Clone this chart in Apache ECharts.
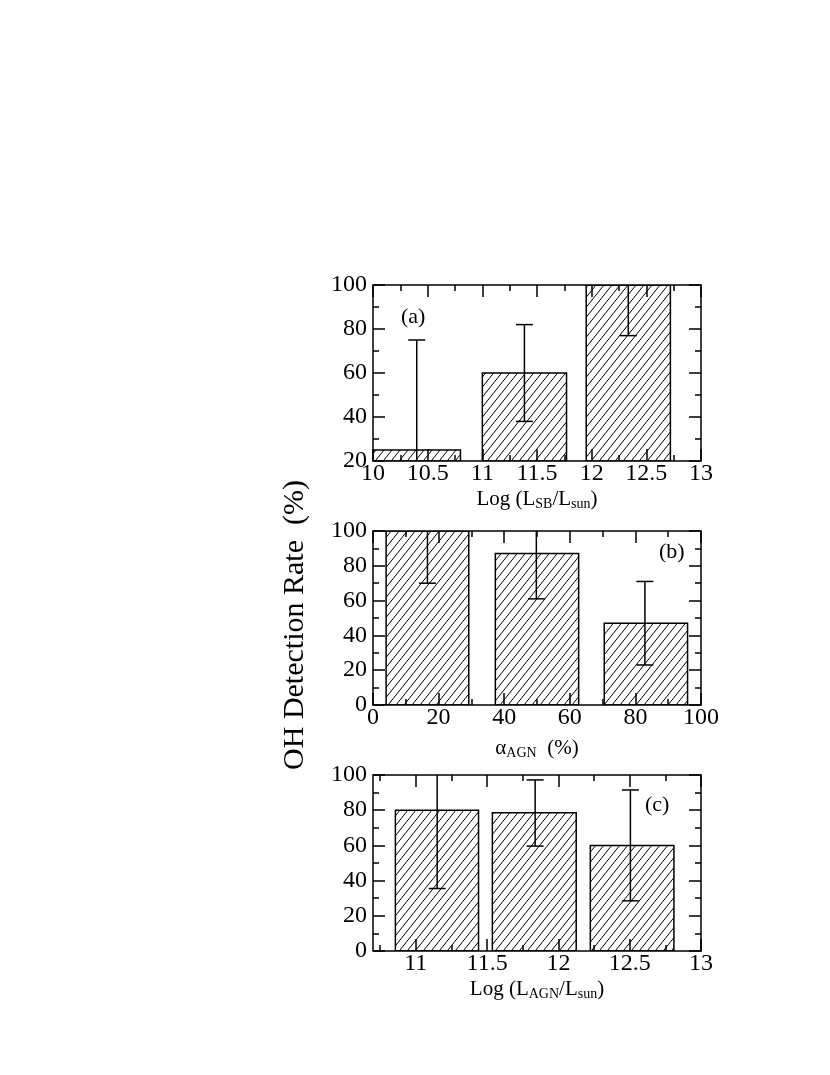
<!DOCTYPE html>
<html>
<head>
<meta charset="utf-8">
<script src="https://cdn.jsdelivr.net/npm/echarts@6/dist/echarts.min.js"></script>
<style>
  html, body { margin: 0; padding: 0; background: #fff; }
  #main { width: 830px; height: 1075px; }
</style>
</head>
<body>
<div id="main"></div>
<script>
// panel (a): Log(L_SB/L_sun)
var sbLeft = [10.0, 11.0, 11.95];
var sbRight = [10.8, 11.77, 12.72];
var sbRate = [25, 60, 100];
var sbErrX = [10.4, 11.385, 12.335];
var sbErrLow = [0, 38, 77];
var sbErrHigh = [75, 82, 100];

// panel (b): alpha_AGN (%)
var alphaLeft = [4, 37.3, 70.5];
var alphaRight = [29.2, 62.7, 95.9];
var alphaRate = [100, 87, 47];
var alphaErrX = [16.6, 49.8, 82.9];
var alphaErrLow = [70, 61, 23];
var alphaErrHigh = [100, 113, 71];

// panel (c): Log(L_AGN/L_sun)
var agnLeft = [10.857, 11.537, 12.224];
var agnRight = [11.44, 12.125, 12.81];
var agnRate = [80, 78.6, 60];
var agnErrX = [11.15, 11.837, 12.505];
var agnErrLow = [35.5, 59.6, 28.5];
var agnErrHigh = [124, 97.2, 91.5];

// tick values
var sbMajor = [10, 10.5, 11, 11.5, 12, 12.5, 13];
var sbMinor = [10.25, 10.75, 11.25, 11.75, 12.25, 12.75];
var alphaMajor = [0, 20, 40, 60, 80, 100];
var alphaMinor = [10, 30, 50, 70, 90];
var agnMajor = [11, 11.5, 12, 12.5, 13];
var agnMinor = [10.75, 11.25, 11.75, 12.25, 12.75];
var rateMajorA = [20, 40, 60, 80, 100];
var rateMinorA = [30, 50, 70, 90];
var rateMajor = [0, 20, 40, 60, 80, 100];
var rateMinor = [10, 30, 50, 70, 90];

var FONT = 'Liberation Serif';

// hatch pattern "/" lines
function makeHatch() {
  var c = document.createElement('canvas');
  c.width = 8;
  c.height = 10;
  var ctx = c.getContext('2d');
  ctx.strokeStyle = '#000';
  ctx.lineWidth = 1;
  ctx.beginPath();
  [-8, 0, 8].forEach(function (dx) {
    ctx.moveTo(dx, 10);
    ctx.lineTo(dx + 8, 0);
  });
  ctx.stroke();
  return c;
}
var hatch = { image: makeHatch(), repeat: 'repeat' };

function renderBar(params, api) {
  var p0 = api.coord([api.value(0), api.value(2)]);
  var p1 = api.coord([api.value(1), 0]);
  var cs = params.coordSys;
  var shape = echarts.graphic.clipRectByRect(
    { x: p0[0], y: p0[1], width: p1[0] - p0[0], height: p1[1] - p0[1] },
    { x: cs.x, y: cs.y, width: cs.width, height: cs.height }
  );
  return {
    type: 'rect',
    shape: shape,
    style: { fill: hatch, stroke: '#000', lineWidth: 1.5 }
  };
}

function renderErr(params, api) {
  var lo = api.coord([api.value(0), api.value(1)]);
  var hi = api.coord([api.value(0), api.value(2)]);
  var w = 8.5;
  var st = { stroke: '#000', lineWidth: 1.5 };
  return {
    type: 'group',
    children: [
      { type: 'line', shape: { x1: lo[0], y1: lo[1], x2: hi[0], y2: hi[1] }, style: st },
      { type: 'line', shape: { x1: lo[0] - w, y1: lo[1], x2: lo[0] + w, y2: lo[1] }, style: st },
      { type: 'line', shape: { x1: hi[0] - w, y1: hi[1], x2: hi[0] + w, y2: hi[1] }, style: st }
    ]
  };
}

// one axis, ticks inside, ticks/labels at given values
function axis(grid, pos, min, max, ticks, opts) {
  opts = opts || {};
  var a = {
    type: 'value',
    gridIndex: grid,
    position: pos,
    min: min,
    max: max,
    axisLine: { show: false, onZero: false },
    splitLine: { show: false },
    axisTick: {
      show: true, inside: true, length: opts.tickLen || 12,
      customValues: ticks,
      lineStyle: { color: '#000', width: 1.5 }
    },
    axisLabel: {
      show: !!opts.label,
      customValues: ticks,
      color: '#000',
      fontFamily: FONT,
      fontSize: 24,
      margin: (pos === 'left' ? 6 : 1)
    }
  };
  if (opts.name) {
    a.name = opts.name;
    a.nameLocation = 'middle';
    a.nameGap = opts.nameGap || 26;
    a.nameTextStyle = {
      color: '#000',
      fontFamily: FONT,
      fontSize: 21,
      rich: {
        sub: { fontFamily: FONT, fontSize: 14, color: '#000', padding: [10, 0, 0, 0] }
      }
    };
  }
  return a;
}

function gridBox(top, height, frame) {
  return {
    left: 373, top: top, width: 328, height: height,
    show: frame, borderColor: '#000', borderWidth: 1.5,
    backgroundColor: 'transparent',
    outerBoundsMode: 'none'
  };
}

function barData(l, r, v) {
  return l.map(function (x, i) { return [x, r[i], v[i]]; });
}
function errData(x, lo, hi) {
  return x.map(function (v, i) { return [v, lo[i], hi[i]]; });
}

var chart = echarts.init(document.getElementById('main'), null, { renderer: 'canvas' });

var option = {
  backgroundColor: '#fff',
  animation: false,
  // grids 0-2 carry data and major ticks, 3-5 the minor ticks
  grid: [
    gridBox(285, 176, true), gridBox(531, 174, true), gridBox(775, 176, true),
    gridBox(285, 176, false), gridBox(531, 174, false), gridBox(775, 176, false)
  ],
  xAxis: [
    axis(0, 'bottom', 10, 13, sbMajor, { label: true, name: 'Log (L{sub|SB}/L{sub|sun})' }),
    axis(0, 'top', 10, 13, sbMajor),
    axis(1, 'bottom', 0, 100, alphaMajor, { label: true, name: 'α{sub|AGN}  (%)', nameGap: 31 }),
    axis(1, 'top', 0, 100, alphaMajor),
    axis(2, 'bottom', 10.7, 13, agnMajor, { label: true, name: 'Log (L{sub|AGN}/L{sub|sun})' }),
    axis(2, 'top', 10.7, 13, agnMajor),
    axis(3, 'bottom', 10, 13, sbMinor, { tickLen: 6 }),
    axis(3, 'top', 10, 13, sbMinor, { tickLen: 6 }),
    axis(4, 'bottom', 0, 100, alphaMinor, { tickLen: 6 }),
    axis(4, 'top', 0, 100, alphaMinor, { tickLen: 6 }),
    axis(5, 'bottom', 10.7, 13, agnMinor, { tickLen: 6 }),
    axis(5, 'top', 10.7, 13, agnMinor, { tickLen: 6 })
  ],
  yAxis: [
    axis(0, 'left', 20, 100, rateMajorA, { label: true }),
    axis(0, 'right', 20, 100, rateMajorA),
    axis(1, 'left', 0, 100, rateMajor, { label: true }),
    axis(1, 'right', 0, 100, rateMajor),
    axis(2, 'left', 0, 100, rateMajor, { label: true }),
    axis(2, 'right', 0, 100, rateMajor),
    axis(3, 'left', 20, 100, rateMinorA, { tickLen: 6 }),
    axis(3, 'right', 20, 100, rateMinorA, { tickLen: 6 }),
    axis(4, 'left', 0, 100, rateMinor, { tickLen: 6 }),
    axis(4, 'right', 0, 100, rateMinor, { tickLen: 6 }),
    axis(5, 'left', 0, 100, rateMinor, { tickLen: 6 }),
    axis(5, 'right', 0, 100, rateMinor, { tickLen: 6 })
  ],
  graphic: [
    { type: 'text', left: 401, top: 306, style: { text: '(a)', font: '22px "Liberation Serif"', fill: '#000' } },
    { type: 'text', left: 659, top: 541, style: { text: '(b)', font: '22px "Liberation Serif"', fill: '#000' } },
    { type: 'text', left: 645, top: 794, style: { text: '(c)', font: '22px "Liberation Serif"', fill: '#000' } },
    {
      type: 'text', x: 295, y: 625, rotation: Math.PI / 2,
      style: { text: 'OH Detection Rate  (%)', font: '30px "Liberation Serif"', fill: '#000', align: 'center', verticalAlign: 'middle' }
    }
  ],
  series: [
    { type: 'custom', xAxisIndex: 0, yAxisIndex: 0, renderItem: renderBar, clip: true, data: barData(sbLeft, sbRight, sbRate) },
    { type: 'custom', xAxisIndex: 0, yAxisIndex: 0, renderItem: renderErr, clip: true, data: errData(sbErrX, sbErrLow, sbErrHigh) },
    { type: 'custom', xAxisIndex: 2, yAxisIndex: 2, renderItem: renderBar, clip: true, data: barData(alphaLeft, alphaRight, alphaRate) },
    { type: 'custom', xAxisIndex: 2, yAxisIndex: 2, renderItem: renderErr, clip: true, data: errData(alphaErrX, alphaErrLow, alphaErrHigh) },
    { type: 'custom', xAxisIndex: 4, yAxisIndex: 4, renderItem: renderBar, clip: true, data: barData(agnLeft, agnRight, agnRate) },
    { type: 'custom', xAxisIndex: 4, yAxisIndex: 4, renderItem: renderErr, clip: true, data: errData(agnErrX, agnErrLow, agnErrHigh) }
  ]
};

chart.setOption(option);
</script>
</body>
</html>
